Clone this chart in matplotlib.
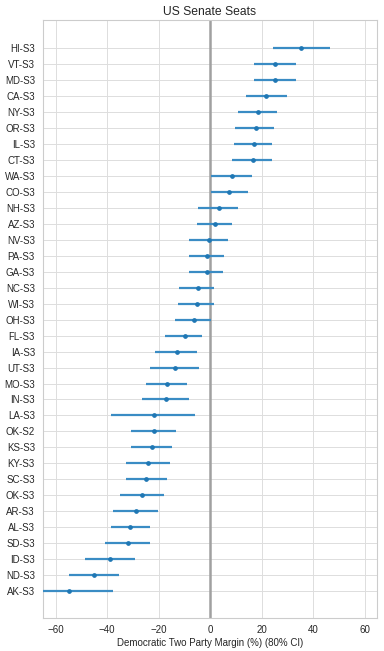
import matplotlib
matplotlib.use('Agg')
import matplotlib.pyplot as plt
import seaborn as sns
import numpy as np

# Senate races, top to bottom
races = ['HI-S3', 'VT-S3', 'MD-S3', 'CA-S3', 'NY-S3', 'OR-S3', 'IL-S3', 'CT-S3',
         'WA-S3', 'CO-S3', 'NH-S3', 'AZ-S3', 'NV-S3', 'PA-S3', 'GA-S3', 'NC-S3',
         'WI-S3', 'OH-S3', 'FL-S3', 'IA-S3', 'UT-S3', 'MO-S3', 'IN-S3', 'LA-S3',
         'OK-S2', 'KS-S3', 'KY-S3', 'SC-S3', 'OK-S3', 'AR-S3', 'AL-S3', 'SD-S3',
         'ID-S3', 'ND-S3', 'AK-S3']

margin = [35.5, 25.4, 25.4, 21.9, 18.8, 17.7, 16.9, 16.5,
          8.4, 7.5, 3.4, 1.8, -0.5, -1.3, -1.3, -4.8,
          -5.2, -6.3, -9.8, -12.9, -13.7, -16.8, -17.2, -21.8,
          -21.9, -22.6, -24.1, -25.0, -26.5, -28.9, -31.2, -31.9,
          -38.8, -45.0, -54.7]

ci_low = [24.5, 17.2, 17.2, 14.1, 11.0, 9.8, 9.4, 8.6,
          0.5, 0.3, -4.5, -4.9, -8.0, -8.0, -8.0, -11.9,
          -12.3, -13.8, -17.3, -21.2, -23.5, -25.0, -26.6, -38.6,
          -30.5, -30.8, -32.8, -32.8, -35.1, -37.8, -38.6, -40.9,
          -48.6, -54.8, -68.0]

ci_high = [46.6, 33.3, 33.3, 29.8, 26.1, 24.9, 24.1, 24.1,
           16.4, 14.8, 11.0, 8.6, 7.1, 5.5, 5.2, 1.7,
           1.7, 0.4, -3.0, -4.9, -4.1, -8.8, -8.0, -5.7,
           -13.4, -14.6, -15.7, -16.9, -17.7, -20.4, -23.5, -23.5,
           -29.3, -35.5, -37.8]

sns.set_style('whitegrid')
plt.rcParams['font.family'] = ['Liberation Sans', 'DejaVu Sans']

fig, ax = plt.subplots(figsize=(3.84, 6.51), dpi=100)

y = np.arange(len(races))
m = np.array(margin)
xerr = [m - np.array(ci_low), np.array(ci_high) - m]

ax.axvline(0, color='#a0a0a0', linewidth=1.8, zorder=1)
ax.errorbar(m, y, xerr=xerr, fmt='o', color='#1f77b4', ecolor='#3a8cc4',
            elinewidth=1.6, markersize=2.4, capsize=0, zorder=3)

ax.set_yticks(y)
ax.set_yticklabels(races, fontsize=7)
ax.set_ylim(len(races) - 1 + 1.67, -1.75)
ax.set_xlim(-65, 65)
ax.set_xticks([-60, -40, -20, 0, 20, 40, 60])
ax.tick_params(axis='x', labelsize=7, pad=2)
ax.tick_params(axis='y', pad=2)
ax.set_xlabel('Democratic Two Party Margin (%) (80% CI)', fontsize=7, labelpad=2)
ax.set_title('US Senate Seats', fontsize=8.7, pad=4)
for s in ax.spines.values():
    s.set_color('#cccccc')
ax.grid(True, color='#dddddd', linewidth=0.7)

fig.subplots_adjust(left=0.111, right=0.983, top=0.969, bottom=0.051)
fig.savefig('out.png', dpi=100)
